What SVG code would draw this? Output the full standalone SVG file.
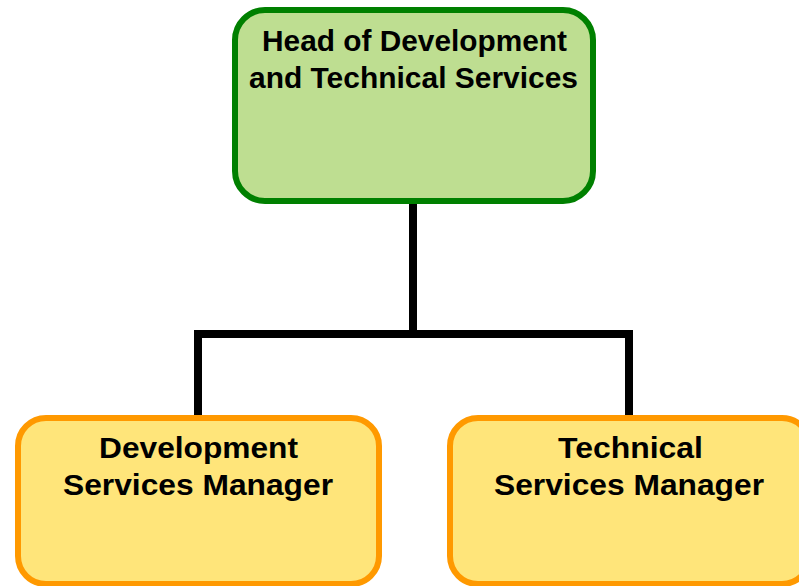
<svg xmlns="http://www.w3.org/2000/svg" width="799" height="586" viewBox="0 0 799 586">
<style>
.t{font-family:"Liberation Sans",Arial,sans-serif;font-weight:bold;font-size:29px;fill:#000;text-anchor:middle}
.b{font-size:30px}
.g{fill:#BEDE91;stroke:#008000;stroke-width:6}
.o{fill:#FFE57A;stroke:#FF9900;stroke-width:6}
.c{fill:none;stroke:#000;stroke-width:8;stroke-linejoin:miter}
</style>
<rect width="799" height="586" fill="#fff"/>
<g id="connectors">
<path class="c" d="M413,204 V334"/>
<path class="c" d="M198,416 V334 H629 V416"/>
</g>
<g id="head">
<rect class="g" x="235" y="10" width="358" height="191" rx="30" ry="30"/>
<text class="t" x="414.5" y="51" textLength="305" lengthAdjust="spacingAndGlyphs">Head of Development</text>
<text class="t" x="413.5" y="88" textLength="329" lengthAdjust="spacingAndGlyphs">and Technical Services</text>
</g>
<g id="dev">
<rect class="o" x="18" y="418" width="361" height="166" rx="28" ry="28"/>
<text class="t b" x="198.5" y="458" textLength="199" lengthAdjust="spacingAndGlyphs">Development</text>
<text class="t b" x="198" y="495" textLength="270" lengthAdjust="spacingAndGlyphs">Services Manager</text>
</g>
<g id="tech">
<rect class="o" x="450" y="418" width="360" height="166" rx="28" ry="28"/>
<text class="t b" x="630.5" y="458" textLength="145" lengthAdjust="spacingAndGlyphs">Technical</text>
<text class="t b" x="629" y="495" textLength="270" lengthAdjust="spacingAndGlyphs">Services Manager</text>
</g>
</svg>
